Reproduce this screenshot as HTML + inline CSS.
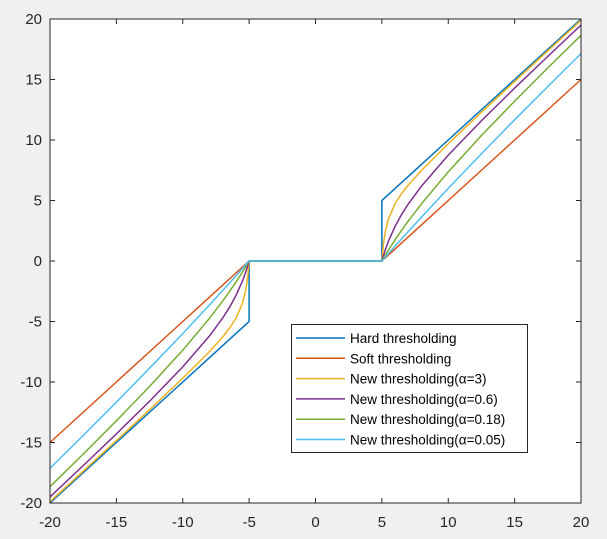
<!DOCTYPE html>
<html><head><meta charset="utf-8"><style>
html,body{margin:0;padding:0;background:#f0f0f0;}
svg{display:block;font-family:"Liberation Sans",Arial,sans-serif;}
</style></head><body>
<svg id="chart" width="607" height="539">
<rect x="0" y="0" width="607" height="539" fill="#f0f0f0"/>
<rect x="50" y="19" width="531" height="484" fill="#fff"/>
<g id="series"></g>
<g id="axes"></g>
<g id="legend"></g>
</svg>
<script>
// data
const xPos = [5, 5.1, 5.25, 5.5, 6, 6.5, 7, 8, 10, 12.5, 15, 17.5, 20];
const hardY = [5, 5.1, 5.25, 5.5, 6, 6.5, 7, 8, 10, 12.5, 15, 17.5, 20];
const softY = [0, 0.1, 0.25, 0.5, 1, 1.5, 2, 3, 5, 7.5, 10, 12.5, 15];
const a3Y = [0, 1.25, 2.39, 3.5, 4.75, 5.59, 6.29, 7.5, 9.69, 12.29, 14.84, 17.37, 19.89];
const a06Y = [0, 0.38, 0.9, 1.65, 2.875, 3.87, 4.73, 6.21, 8.75, 11.59, 14.29, 16.91, 19.5];
const a018Y = [0, 0.19, 0.47, 0.91, 1.76, 2.56, 3.32, 4.75, 7.37, 10.37, 13.21, 15.96, 18.65];
const a005Y = [0, 0.125, 0.31, 0.62, 1.24, 1.85, 2.45, 3.65, 6, 8.86, 11.67, 14.42, 17.14];
const seriesNames = ["Hard thresholding","Soft thresholding","New thresholding(\u03b1=3)","New thresholding(\u03b1=0.6)","New thresholding(\u03b1=0.18)","New thresholding(\u03b1=0.05)"];
const xTicks = [-20,-15,-10,-5,0,5,10,15,20];
const yTicks = [-20,-15,-10,-5,0,5,10,15,20];

const colors = ["#0072BD","#D95319","#EDB120","#7E2F8E","#77AC30","#4DBEEE"];
const L=50,R=581,T=19,B=503;
const sx = v => L + (v+20)/40*(R-L);
const sy = v => B - (v+20)/40*(B-T);
const NS="http://www.w3.org/2000/svg";
function mk(tag, attrs){const e=document.createElementNS(NS,tag);for(const k in attrs)e.setAttribute(k,attrs[k]);return e;}

const allY=[hardY,softY,a3Y,a06Y,a018Y,a005Y];
const sg=document.getElementById('series');
const slugs=["hard","soft","alpha-3","alpha-0-6","alpha-0-18","alpha-0-05"];
allY.forEach((ys,i)=>{
  const pts=[];
  for(let k=xPos.length-1;k>=0;k--) pts.push([-xPos[k],-ys[k]]);
  pts.push([-xPos[0],0]); pts.push([xPos[0],0]);
  for(let k=0;k<xPos.length;k++) pts.push([xPos[k],ys[k]]);
  const p=mk('polyline',{points:pts.map(q=>sx(q[0]).toFixed(2)+','+sy(q[1]).toFixed(2)).join(' '),fill:'none',stroke:colors[i],'stroke-width':1.5,'stroke-linejoin':'round'});
  
  
  sg.appendChild(p);
});

const ax=document.getElementById('axes');
const box=mk('rect',{x:L,y:T,width:R-L,height:B-T,fill:'none',stroke:'#262626','stroke-width':1});


ax.appendChild(box);
xTicks.forEach(v=>{
  const x=sx(v);
  const t1=mk('path',{d:`M${x},${B}V${B-5}M${x},${T}V${T+5}`,stroke:'#262626','stroke-width':1});
  
  
  ax.appendChild(t1);
  const tx=mk('text',{x:x,y:527,'text-anchor':'middle','font-size':15,fill:'#262626'});
  tx.textContent=v;
  
  
  ax.appendChild(tx);
});
yTicks.forEach(v=>{
  const y=sy(v);
  const t1=mk('path',{d:`M${L},${y}H${L+5}M${R},${y}H${R-5}`,stroke:'#262626','stroke-width':1});
  
  
  ax.appendChild(t1);
  const tx=mk('text',{x:42,y:y+5,'text-anchor':'end','font-size':15,fill:'#262626'});
  tx.textContent=v;
  
  
  ax.appendChild(tx);
});

const lg=document.getElementById('legend');
const lb=mk('rect',{x:291.5,y:324.5,width:236,height:128,fill:'#fff',stroke:'#262626','stroke-width':1});


lg.appendChild(lb);
seriesNames.forEach((n,i)=>{
  const y=338+i*20.3;
  const ln=mk('line',{x1:296,x2:345,y1:y,y2:y,stroke:colors[i],'stroke-width':1.5});
  
  
  lg.appendChild(ln);
  const tx=mk('text',{x:350,y:y+5,'font-size':13.5,fill:'#000'});
  tx.textContent=n;
  
  
  lg.appendChild(tx);
});
</script>
</body></html>
